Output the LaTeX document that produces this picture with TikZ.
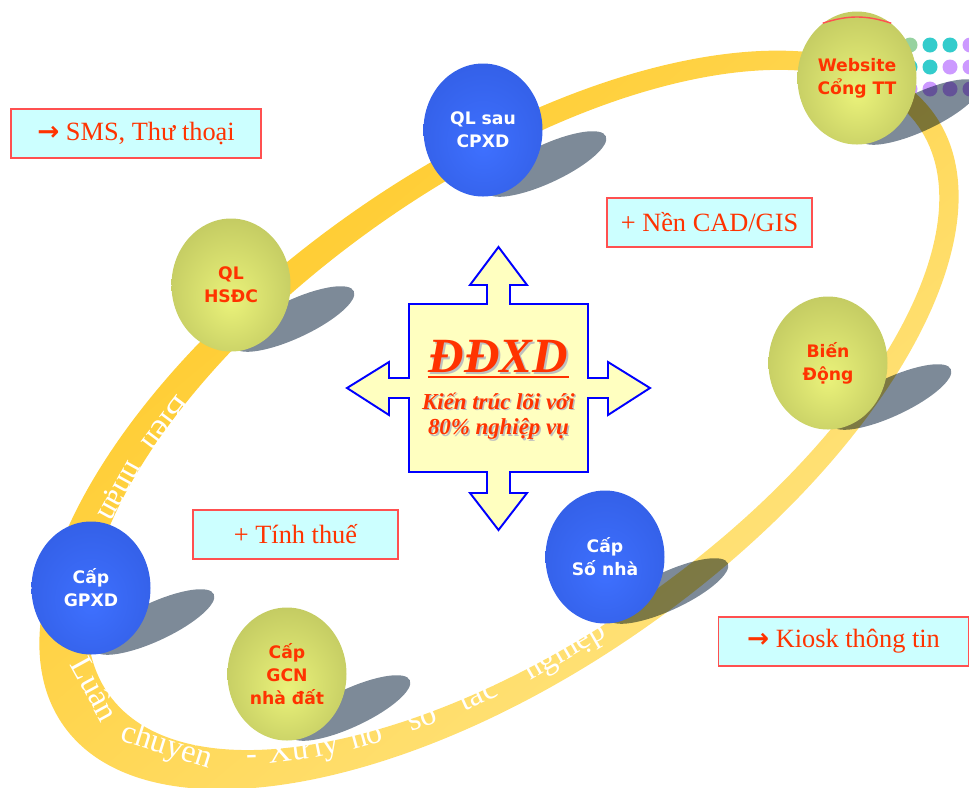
\documentclass[tikz,border=0pt]{standalone}
\usepackage{fontspec}
\setmainfont{Liberation Serif}
\newfontfamily\ballfont{DejaVu Sans}
\newfontfamily\arrowfont{DejaVu Sans}
\usepackage{xcolor}
\usepackage{tikz}
\usetikzlibrary{shapes.geometric}
\definecolor{bandgold}{RGB}{255,198,28}
\definecolor{bandpale}{RGB}{255,230,135}
\definecolor{bluehi}{RGB}{62,112,255}
\definecolor{bluelo}{RGB}{44,84,214}
\definecolor{olivehi}{RGB}{234,242,122}
\definecolor{olivelo}{RGB}{166,173,80}
\definecolor{shadowc}{RGB}{125,138,152}
\definecolor{txtred}{RGB}{255,51,0}
\definecolor{boxcyan}{RGB}{204,255,255}
\definecolor{boxred}{RGB}{255,80,80}
\definecolor{crossfill}{RGB}{255,255,192}
\definecolor{crossblue}{RGB}{0,0,255}
\definecolor{dotgreen}{RGB}{150,210,160}
\definecolor{dotteal}{RGB}{51,204,204}
\definecolor{dotpurple}{RGB}{204,153,255}
\pgfdeclareradialshading{bluesphere}{\pgfpoint{0bp}{-6bp}}{color(0bp)=(bluehi); color(50bp)=(bluelo)}
\pgfdeclareradialshading{olivesphere}{\pgfpoint{0bp}{-6bp}}{color(0bp)=(olivehi); color(50bp)=(olivelo)}
\tikzset{
  % sphere base
  ball/.style={
    ellipse,
    inner sep=0pt,
    minimum width=23.8mm,
    minimum height=26.6mm,
    shade,
    align=center,
    font=\ballfont\bfseries\fontsize{9.8}{13}\selectfont
  },
  % blue sphere
  blueball/.style={ball, shading=bluesphere, text=white},
  % olive sphere
  oliveball/.style={ball, shading=olivesphere, text=txtred},
  % cast shadow
  shadowblob/.style={fill=shadowc, blend mode=multiply},
  % note boxes
  infobox/.style={
    draw=boxred,
    fill=boxcyan,
    line width=0.7pt,
    minimum height=9.8mm,
    inner sep=0pt,
    text=txtred,
    font=\fontsize{15}{18}\selectfont
  },
  % words on the ring
  bandtxt/.style={text=white, inner sep=0pt, anchor=base, font=\fontsize{18.5}{20}\selectfont},
  % centre texts
  titletxt/.style={inner sep=0pt, anchor=base, font=\bfseries\itshape\fontsize{28}{32}\selectfont},
  coretxt/.style={inner sep=0pt, align=center, font=\bfseries\itshape\fontsize{13}{14.4}\selectfont},
}
\begin{document}
\begin{tikzpicture}[x=0.2mm, y=0.2mm]
    \useasboundingbox (0,0) rectangle (969,-787);

    % Dots behind the website ball
    \foreach \x/\y/\c in {910/45/dotgreen, 930/45/dotteal, 950/45/dotteal, 970/45/dotpurple,
                          910/67/dotteal, 930/67/dotteal, 950/67/dotpurple, 970/67/dotpurple,
                          910/89/dotpurple, 930/89/dotpurple, 950/89/dotpurple, 970/89/dotpurple}
        \fill[\c] (\x,-\y) circle (7.5);

    % Ring
    \begin{scope}[even odd rule]
        \clip[rotate around={35:(499,-420)}]
            (499,-420) ellipse [x radius=532, y radius=254]
            (516.5,-420) ellipse [x radius=494.5, y radius=229];
        \shade[top color=bandgold, bottom color=bandpale, shading angle=40] (0,0) rectangle (969,-787);
    \end{scope}

    % Words along the ring
    \foreach \t/\w/\n in {124.5/Biên/bien, 136/nhận/nhan, 177/Luân/luan, 200/chuyển/chuyen, 216/-/dash,
                          222/Xử/xu, 227.5/lý/ly, 233.3/hồ/ho, 241/sơ/so, 248.5/tác/tac, 260/nghiệp/nghiep} {
        \pgfmathsetmacro\px{506+505*cos(\t)*cos(35)-239*sin(\t)*sin(35)}
        \pgfmathsetmacro\py{-415+505*cos(\t)*sin(35)+239*sin(\t)*cos(35)}
        \pgfmathsetmacro\rot{atan2(239*cos(\t),-505*sin(\t))+35}
        \node[bandtxt, rotate=\rot] (\n) at (\px,\py) {\w};
    }

    % Shadows
    \foreach \x/\y in {483/130, 231/285, 857/78, 828/363, 605/557, 287/674, 91/588}
        \fill[shadowblob, rotate around={25:(\x+63,-\y-34)}] (\x+63,-\y-34) ellipse [x radius=66, y radius=19];

    % Spheres
    \node[blueball] (qlsau) at (483,-130) {QL sau\\CPXD};
    \node[oliveball] (hsdc) at (231,-285) {QL\\HSĐC};
    \node[oliveball] (website) at (857,-78) {Website\\Cổng TT};
    \node[oliveball] (biendong) at (828,-363) {Biến\\Động};
    \node[blueball] (sonha) at (605,-557) {Cấp\\Số nhà};
    \node[oliveball] (gcn) at (287,-674) {Cấp\\GCN\\nhà đất};
    \node[blueball] (gpxd) at (91,-588) {Cấp\\GPXD};
    \draw[boxred, line width=0.8pt] (website.122) to[bend left=18] (website.58);

    % Four-way arrow
    \draw[crossblue, fill=crossfill, line width=1.1pt, line join=miter]
        (498.5,-247) -- (527,-285) -- (510,-285) -- (510,-304) -- (588,-304) -- (588,-378)
        -- (608,-378) -- (608,-362) -- (650,-388) -- (608,-415) -- (608,-398) -- (588,-398)
        -- (588,-472) -- (510,-472) -- (510,-493) -- (527,-493) -- (498.5,-530) -- (470,-493)
        -- (487,-493) -- (487,-472) -- (409,-472) -- (409,-398) -- (389,-398) -- (389,-415)
        -- (347,-388) -- (389,-362) -- (389,-378) -- (409,-378) -- (409,-304) -- (487,-304)
        -- (487,-285) -- (470,-285) -- cycle;

    % Centre texts
    \node[titletxt, text=black!25] (ddxdsh) at (500.5,-374) {ĐĐXD};
    \node[titletxt, text=txtred] (ddxd) at (498.5,-372) {ĐĐXD};
    \draw[txtred, line width=1.2pt] ([yshift=-1mm]ddxd.base west) -- ([yshift=-1mm]ddxd.base east);
    \node[coretxt, text=black!25] (coresh) at (500,-417.5) {Kiến trúc lõi với\\80\% nghiệp vụ};
    \node[coretxt, text=txtred] (core) at (498.5,-416) {Kiến trúc lõi với\\80\% nghiệp vụ};

    % Note boxes
    \node[infobox, minimum width=50mm] (sms) at (136,-133.5) {{\arrowfont\bfseries →} SMS, Thư thoại};
    \node[infobox, minimum width=41mm] (cad) at (709.5,-222.5) {+ Nền CAD/GIS};
    \node[infobox, minimum width=41mm] (thue) at (295.5,-534.5) {+ Tính thuế};
    \node[infobox, minimum width=50mm] (kiosk) at (843.5,-641.5) {{\arrowfont\bfseries →} Kiosk thông tin};
\end{tikzpicture}
\end{document}
